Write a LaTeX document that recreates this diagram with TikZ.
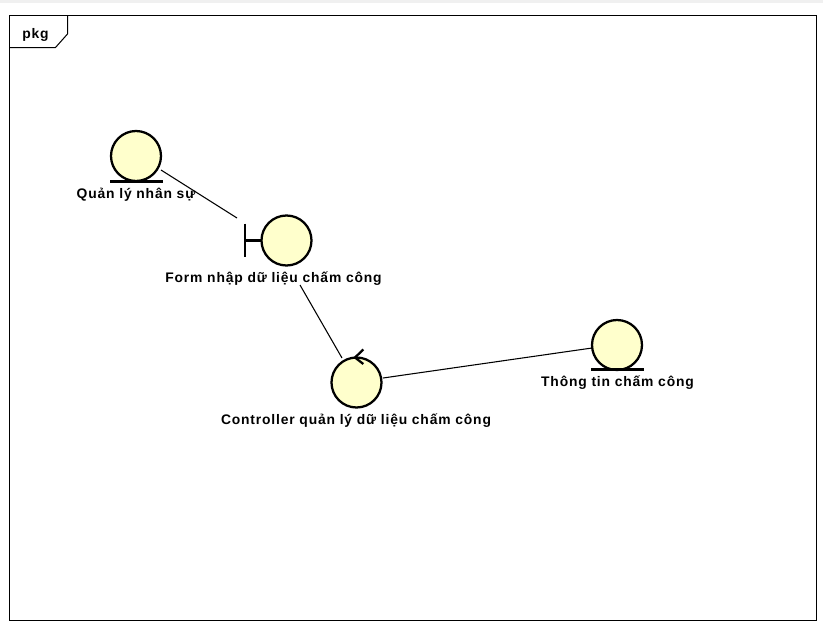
\documentclass[tikz,border=0pt]{standalone}
\usepackage{fontspec}
\setmainfont{Liberation Sans}[LetterSpace=6]
\definecolor{robfill}{RGB}{255,255,204}
\definecolor{topstrip}{RGB}{240,240,240}
\tikzset{
  x=0.75pt,y=-0.75pt,
  framepen/.style={draw=black,line width=0.75pt},
  robust/.style={circle,draw=black,fill=robfill,line width=1.7pt,minimum size=37.5pt,inner sep=0pt,outer sep=0pt},
  glyph/.style={draw=black,line width=1.7pt},
  conn/.style={draw=black,line width=0.8pt},
  lbl/.style={font=\bfseries\fontsize{10.4pt}{12pt}\selectfont,anchor=base,inner sep=0pt,text=black}
}
\begin{document}
\begin{tikzpicture}
\useasboundingbox (0,0) rectangle (823,628);
\fill[white] (0,0) rectangle (823,628);
\fill[topstrip] (0,0) rectangle (823,3);
% package frame
\draw[framepen] (9.5,15.5) rectangle (816.5,620.5);
\draw[framepen] (67.5,15.5) -- (67.5,34) -- (55.5,47.5) -- (9.5,47.5);
\node[lbl] (pkg) at (35.5,38) {pkg};
% robustness icons
\node[robust] (qlns) at (136,156) {};
\draw[glyph] ([shift={(-26,25.5)}]qlns.center) coordinate (qlnsa) -- ([shift={(27,25.5)}]qlns.center) coordinate (qlnsb);
\node[robust] (form) at (286.5,240.5) {};
\draw[glyph] ([shift={(-41.5,-17)}]form.center) coordinate (forma) -- ([shift={(-41.5,16)}]form.center) coordinate (formb);
\draw[glyph] ([shift={(-41.5,0)}]form.center) coordinate (formc) -- (form.west);
\node[robust] (ctrl) at (356.5,382.5) {};
\draw[glyph] ([shift={(6.8,-33)}]ctrl.center) coordinate (ctrla) -- ([shift={(-1.5,-25)}]ctrl.center) coordinate (ctrlb) -- ([shift={(6.8,-18.5)}]ctrl.center) coordinate (ctrlc);
\node[robust] (ttcc) at (617,345) {};
\draw[glyph] ([shift={(-26,24.5)}]ttcc.center) coordinate (ttcca) -- ([shift={(27,24.5)}]ttcc.center) coordinate (ttccb);
% labels
\node[lbl] (qlnsl) at (136,198) {Quản lý nhân sự};
\node[lbl] (forml) at (273.5,282) {Form nhập dữ liệu chấm công};
\node[lbl] (ctrll) at (356,424) {Controller quản lý dữ liệu chấm công};
\node[lbl] (ttccl) at (617.5,386) {Thông tin chấm công};
% connectors
\draw[conn] ([shift={(25,14)}]qlns.center) -- ([shift={(-49.5,-22.5)}]form.center);
\draw[conn] ([shift={(13.5,44.5)}]form.center) -- ([shift={(-14.5,-24.5)}]ctrl.center);
\draw[conn] ([shift={(26.5,-4.5)}]ctrl.center) -- ([shift={(-25,3)}]ttcc.center);
\end{tikzpicture}
\end{document}
